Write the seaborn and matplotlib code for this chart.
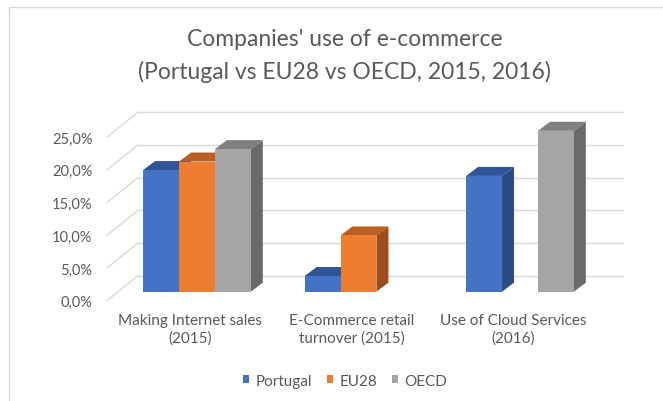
import numpy as np
import pandas as pd
import matplotlib
matplotlib.use("Agg")
import matplotlib.pyplot as plt
from matplotlib.patches import Polygon, Rectangle
from matplotlib.lines import Line2D
import seaborn as sns

# ---------data-----------------------------------------------------------------
categories = ["Making Internet sales\n(2015)",
              "E-Commerce retail\nturnover (2015)",
              "Use of Cloud Services\n(2016)"]
regions = ["Portugal", "EU28", "OECD"]
portugal = [18.6, 2.4, 17.7]
eu28 = [19.9, 8.6, np.nan]
oecd = [21.8, np.nan, 24.6]
yticks = [0, 5, 10, 15, 20, 25]
ytick_labels = ["0,0%", "5,0%", "10,0%", "15,0%", "20,0%", "25,0%"]
title_1 = "Companies' use of e-commerce"
title_2 = "(Portugal vs EU28 vs OECD, 2015, 2016)"

front_colors = ["#4472C4", "#ED7D31", "#A5A5A5"]
top_colors = ["#2F5597", "#B95F22", "#7F7F7F"]
side_colors = ["#2A4B86", "#9C4D19", "#6A6A6A"]
text_grey = "#595959"
grid_grey = "#D9D9D9"

df = pd.DataFrame({
    "category": np.repeat(categories, len(regions)),
    "region": regions * len(categories),
    "value": np.column_stack([portugal, eu28, oecd]).ravel(),
}).dropna()

# ---------figure---------------------------------------------------------------
sns.set_theme(style="white")
plt.rcParams["font.family"] = ["Lato", "DejaVu Sans"]

W, H = 663, 402
fig = plt.figure(figsize=(W / 100, H / 100), dpi=100)
ax = fig.add_axes([107 / W, (H - 301.7) / H, (623 - 107) / W, 188.7 / H])

sns.barplot(data=df, x="category", y="value", hue="region",
            order=categories, hue_order=regions, palette=front_colors,
            saturation=1, width=0.667, errorbar=None, legend=False,
            linewidth=0, ax=ax, zorder=3)

ax.set_xlim(-0.489, 2.706)
ax.set_ylim(0, 28.85)

# pixel -> data unit helpers
x0, y0 = ax.transData.transform((0, 0))
x1, y1 = ax.transData.transform((1, 1))
sx, sy = x1 - x0, y1 - y0
def off(dx, dy):
    return dx / sx, dy / sy

# bars sit a bit behind the front wall plane, give them depth
bx, by = off(11, 9)
dx, dy = off(12, 9)
for p in list(ax.patches):
    h = p.get_height()
    if not np.isfinite(h) or h == 0:
        continue
    hexcol = matplotlib.colors.to_hex(p.get_facecolor()).upper()
    c = front_colors.index(hexcol) if hexcol in front_colors else 0
    x, w = p.get_x() + bx, p.get_width()
    p.set_x(x)
    p.set_y(by)
    top = by + h
    ax.add_patch(Polygon([(x, top), (x + w, top), (x + w + dx, top + dy), (x + dx, top + dy)],
                         closed=True, facecolor=top_colors[c], edgecolor="none", zorder=2))
    ax.add_patch(Polygon([(x + w, by), (x + w + dx, by + dy), (x + w + dx, top + dy), (x + w, top)],
                         closed=True, facecolor=side_colors[c], edgecolor="none", zorder=2))

# back wall gridlines + side wall diagonals
wx, wy = off(31, 25)
xl = ax.get_xlim()
for v in yticks:
    ax.plot([xl[0] + wx, xl[1]], [v + wy, v + wy], color=grid_grey, lw=1, zorder=1, clip_on=False)
    ax.plot([xl[0], xl[0] + wx], [v, v + wy], color=grid_grey, lw=1, zorder=1, clip_on=False)

ax.set_yticks(yticks, ytick_labels)
ax.set_xticks(np.arange(len(categories)) + off(4, 0)[0], categories)
ax.tick_params(axis="y", length=0, pad=10.5, labelsize=10.5, labelcolor=text_grey)
ax.tick_params(axis="x", length=0, pad=9, labelsize=11, labelcolor=text_grey)
for t in ax.get_xticklabels():
    t.set_linespacing(1.3)
ax.set_xlabel("")
ax.set_ylabel("")
ax.grid(False)
sns.despine(ax=ax, left=True, bottom=True)
ax.set_facecolor("none")

# chart titles
fig.text(344.5 / W, 1 - 39 / H, title_1, ha="center", va="center", fontsize=16.5, color=text_grey)
fig.text(344.5 / W, 1 - 72 / H, title_2, ha="center", va="center", fontsize=16.5, color=text_grey)

# legend
handles = [Rectangle((0, 0), 1, 1, facecolor=c, edgecolor="none") for c in front_colors]
leg = fig.legend(handles, regions, loc="center", bbox_to_anchor=(345 / W, 1 - 381.7 / H),
                 ncol=3, frameon=False, fontsize=11, handlelength=0.42, handleheight=0.42,
                 handletextpad=0.42, columnspacing=0.95, borderpad=0)
for t in leg.get_texts():
    t.set_color(text_grey)

# chart frame (only top/left edges visible in the crop)
fig.add_artist(Line2D([8.5 / W, 1], [1 - 7.5 / H, 1 - 7.5 / H], color=grid_grey, lw=1))
fig.add_artist(Line2D([8.5 / W, 8.5 / W], [0, 1 - 7.5 / H], color=grid_grey, lw=1))

fig.savefig("out.png", dpi=100, facecolor="white")
